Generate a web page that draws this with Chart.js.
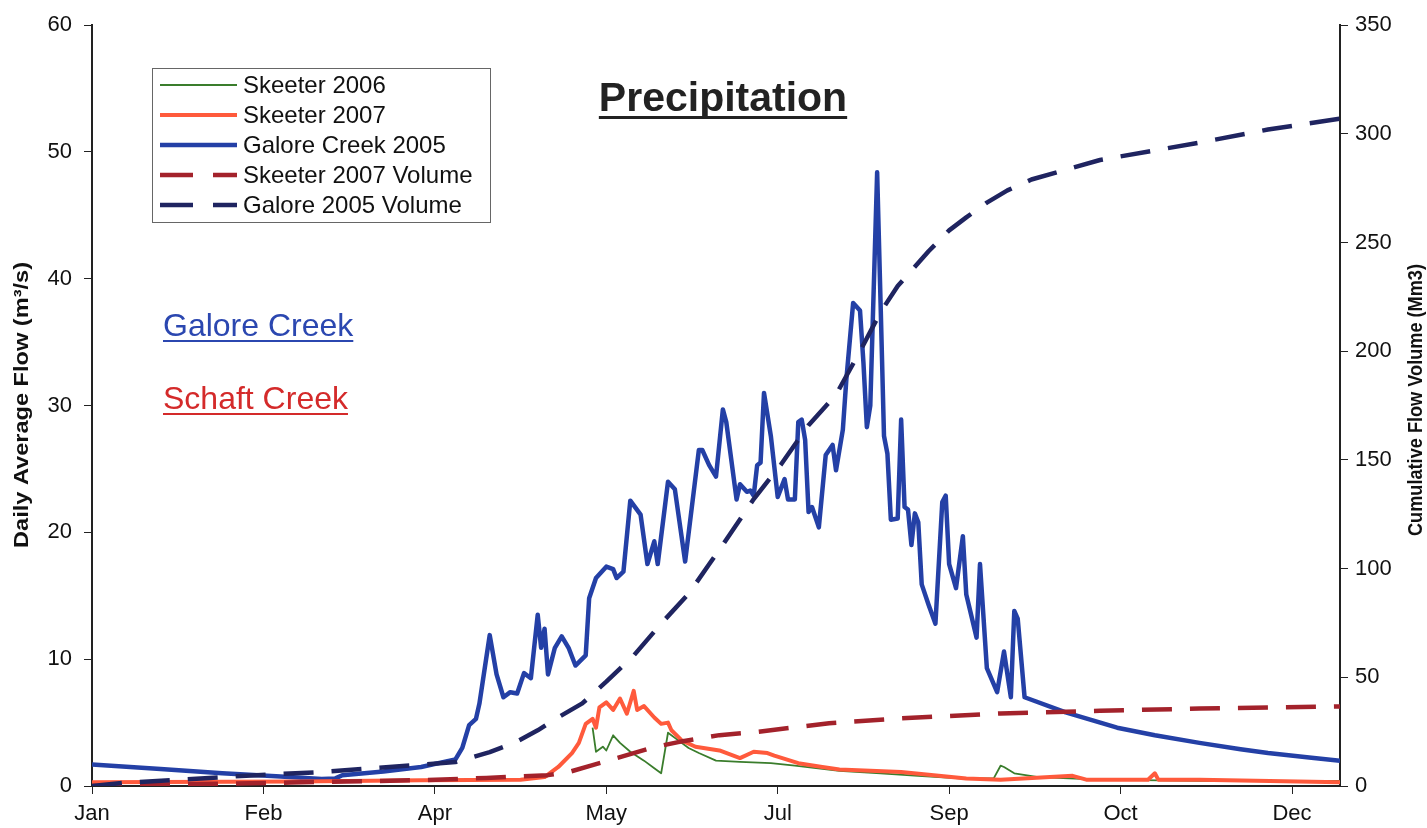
<!DOCTYPE html>
<html>
<head>
<meta charset="utf-8">
<title>Precipitation</title>
<script src="https://cdn.jsdelivr.net/npm/chart.js@4.4.0/dist/chart.umd.min.js"></script>
<style>
  body { margin: 0; background: #fff; }
  #wrap { width: 1427px; height: 828px; }
</style>
</head>
<body>
<div id="wrap"><canvas id="myChart" width="1427" height="828"></canvas></div>
<script>
'use strict';

// x axis is day of year, Excel style date axis with a tick every 50 days
let monthLabels = ['Jan', 'Feb', 'Apr', 'May', 'Jul', 'Sep', 'Oct', 'Dec'];

// Galore Creek 2005 daily flow (m3/s)
let galoreDays = [0, 20, 38, 55, 67, 71, 73, 85, 96, 106, 108, 110, 112, 113, 116, 118, 120, 122, 124, 126, 128, 130, 131, 132, 133, 135, 137, 139, 141, 144, 145, 147, 150, 152, 153, 155, 157, 160, 162, 164, 165, 168, 170, 173, 177, 178, 180, 182, 184, 185, 188, 189, 191, 192, 193, 194, 195, 196, 198, 200, 202, 203, 205, 206, 207, 208, 209, 210, 212, 214, 216, 217, 219, 220, 222, 224, 225, 226, 227, 229, 230, 231, 232, 233, 235, 236, 237, 238, 239, 240, 241, 242, 244, 246, 248, 249, 250, 252, 254, 255, 258, 259, 261, 264, 266, 268, 269, 270, 272, 284, 299, 310, 323, 335, 343, 355, 364];
let galoreFlow = [1.7, 1.35, 1.0, 0.75, 0.55, 0.6, 0.85, 1.15, 1.5, 2.1, 3.0, 4.8, 5.3, 6.5, 11.9, 8.8, 7.0, 7.4, 7.3, 8.9, 8.5, 13.5, 10.9, 12.4, 8.8, 10.9, 11.8, 10.9, 9.5, 10.3, 14.8, 16.4, 17.3, 17.1, 16.4, 16.9, 22.5, 21.4, 17.5, 19.3, 17.5, 24.0, 23.4, 17.7, 26.5, 26.5, 25.3, 24.4, 29.7, 28.7, 22.6, 23.8, 23.2, 23.3, 22.9, 25.3, 25.5, 31.0, 27.6, 22.8, 24.2, 22.6, 22.6, 28.7, 28.9, 27.3, 21.6, 22.0, 20.4, 26.1, 26.9, 24.9, 28.1, 32.0, 38.1, 37.5, 33.4, 28.3, 30.0, 48.4, 38.1, 27.6, 26.2, 21.0, 21.1, 28.9, 22.0, 21.8, 19.0, 21.5, 20.8, 15.9, 14.3, 12.8, 22.4, 22.9, 17.5, 15.6, 19.7, 15.1, 11.7, 17.5, 9.3, 7.4, 10.6, 7.0, 13.8, 13.2, 7.0, 5.8, 4.6, 4.0, 3.4, 2.9, 2.6, 2.25, 2.0];

// Skeeter 2006 daily flow
let skeeter06Days = [146, 147, 149, 150, 152, 154, 157, 161, 164, 166, 168, 171, 174, 177, 182, 189, 198, 205, 218, 230, 241, 253, 263, 265, 266, 269, 276, 294, 323, 364];
let skeeter06Flow = [4.6, 2.7, 3.1, 2.8, 4.0, 3.4, 2.7, 2.0, 1.4, 1.0, 4.2, 3.6, 3.0, 2.6, 2.0, 1.9, 1.8, 1.6, 1.2, 1.0, 0.8, 0.6, 0.6, 1.6, 1.5, 1.0, 0.7, 0.5, 0.4, 0.4];

// Skeeter 2007 daily flow
let skeeter07Days = [0, 60, 96, 125, 132, 136, 140, 142, 144, 146, 147, 148, 150, 152, 154, 155, 156, 158, 159, 161, 164, 166, 168, 169, 172, 176, 183, 189, 193, 197, 199, 206, 213, 218, 236, 255, 265, 286, 290, 308, 310, 311, 323, 364];
let skeeter07Flow = [0.3, 0.35, 0.45, 0.5, 0.7, 1.5, 2.6, 3.4, 4.9, 5.3, 4.6, 6.2, 6.6, 6.0, 6.9, 6.3, 5.7, 7.5, 6.0, 6.3, 5.4, 4.9, 5.0, 4.4, 3.6, 3.1, 2.8, 2.2, 2.7, 2.6, 2.4, 1.8, 1.5, 1.3, 1.1, 0.6, 0.5, 0.8, 0.5, 0.5, 1.0, 0.5, 0.5, 0.3];

// cumulative volumes (Mm3), right axis
let skeeterVolDays = [0, 19, 58, 96, 115, 133, 139, 146, 156, 164, 171, 183, 193, 215, 236, 265, 294, 323, 364];
let skeeterVolume = [0, 0.6, 1.6, 2.7, 3.7, 5, 6.4, 9.6, 14.2, 17.9, 20.2, 23.4, 24.7, 28.9, 31.1, 33.4, 34.6, 35.6, 36.6];

let galoreVolDays = [0, 9, 48, 67, 106, 116, 123, 130, 136, 143, 150, 158, 166, 174, 180, 184, 193, 201, 209, 217, 224, 230, 235, 244, 250, 255, 261, 267, 274, 294, 323, 343, 364];
let galoreVolume = [0, 1.4, 5, 6.4, 11, 15.6, 19.7, 25.6, 31.6, 38, 48, 60, 74.7, 88.4, 102, 111, 132, 148, 166, 180, 200, 218, 230, 246, 255.6, 261.6, 268.4, 274, 279, 288, 296, 302, 307];

// pair up days and values into {x, y} points for chart.js
function toPoints(days, values) {
    let points = [];
    for (let i = 0; i < days.length; i++) {
        points.push({ x: days[i], y: values[i] });
    }
    return points;
}

let tickFont = { family: "'Liberation Sans', Arial, sans-serif", size: 22 };

// legend rows, in the order the reference shows them
let legendRows = [
    { label: 'Skeeter 2006', color: '#3a7d2c', width: 1.8, dash: [] },
    { label: 'Skeeter 2007', color: '#ff5a3c', width: 4, dash: [] },
    { label: 'Galore Creek 2005', color: '#2440a6', width: 4.5, dash: [] },
    { label: 'Skeeter 2007 Volume', color: '#a3222b', width: 4.5, dash: [33, 20] },
    { label: 'Galore 2005 Volume', color: '#1f2460', width: 4.5, dash: [33, 20] }
];

function underlinedText(ctx, text, x, y, font, color, thick) {
    ctx.font = font;
    ctx.fillStyle = color;
    ctx.textBaseline = 'alphabetic';
    ctx.fillText(text, x, y);
    let w = ctx.measureText(text).width;
    ctx.fillRect(x, y + 4, w, thick);
}

// rotated text reading bottom to top, squeezed to a target length
function verticalText(ctx, text, cx, cy, len) {
    ctx.save();
    ctx.font = "bold 20px 'Liberation Sans Narrow', 'Liberation Sans', Arial, sans-serif";
    ctx.fillStyle = '#111';
    ctx.textAlign = 'center';
    ctx.textBaseline = 'middle';
    let w = ctx.measureText(text).width;
    ctx.translate(cx, cy);
    ctx.rotate(-Math.PI / 2);
    ctx.scale(len / w, 1);
    ctx.fillText(text, 0, 0);
    ctx.restore();
}

const decorations = {
    id: 'decorations',
    afterDraw(chart) {
        const ctx = chart.ctx;
        ctx.save();

        // title
        ctx.font = "bold 41px 'Liberation Sans', Arial, sans-serif";
        ctx.fillStyle = '#222';
        ctx.textAlign = 'center';
        ctx.textBaseline = 'alphabetic';
        ctx.fillText('Precipitation', 723, 111);
        let tw = ctx.measureText('Precipitation').width;
        ctx.fillRect(723 - tw / 2, 116, tw, 3);
        ctx.textAlign = 'left';

        // legend box
        ctx.fillStyle = '#fff';
        ctx.fillRect(152, 68, 338, 154);
        ctx.strokeStyle = '#666';
        ctx.lineWidth = 1;
        ctx.strokeRect(152.5, 68.5, 338, 154);
        for (let i = 0; i < legendRows.length; i++) {
            let row = legendRows[i];
            let y = 85 + i * 30;
            ctx.beginPath();
            ctx.setLineDash(row.dash);
            ctx.strokeStyle = row.color;
            ctx.lineWidth = row.width;
            ctx.moveTo(160, y);
            ctx.lineTo(237, y);
            ctx.stroke();
            ctx.setLineDash([]);
            ctx.font = "24px 'Liberation Sans', Arial, sans-serif";
            ctx.fillStyle = '#111';
            ctx.textBaseline = 'middle';
            ctx.fillText(row.label, 243, y + 1);
        }

        // creek names
        underlinedText(ctx, 'Galore Creek', 163, 336, "32px 'Liberation Sans', Arial, sans-serif", '#2b47b0', 2);
        underlinedText(ctx, 'Schaft Creek', 163, 409, "32px 'Liberation Sans', Arial, sans-serif", '#d42a2a', 2);

        // axis titles
        verticalText(ctx, 'Daily Average Flow (m³/s)', 22, 405, 286);
        verticalText(ctx, 'Cumulative Flow Volume (Mm3)', 1416, 400, 272);

        ctx.restore();
    }
};

function axisStyle() {
    return {
        grid: { display: true, drawOnChartArea: false, drawTicks: true, tickLength: 8, color: '#222' },
        border: { display: true, color: '#222', width: 2 }
    };
}

const ctx = document.getElementById('myChart');

new Chart(ctx, {
    type: 'line',
    data: {
        datasets: [
            {
                label: 'Skeeter 2006',
                data: toPoints(skeeter06Days, skeeter06Flow),
                borderColor: '#3a7d2c',
                borderWidth: 1.8,
                yAxisID: 'y',
                order: 4
            },
            {
                label: 'Skeeter 2007',
                data: toPoints(skeeter07Days, skeeter07Flow),
                borderColor: '#ff5a3c',
                borderWidth: 4,
                yAxisID: 'y',
                order: 3
            },
            {
                label: 'Galore Creek 2005',
                data: toPoints(galoreDays, galoreFlow),
                borderColor: '#2440a6',
                borderWidth: 4.5,
                yAxisID: 'y',
                order: 5
            },
            {
                label: 'Skeeter 2007 Volume',
                data: toPoints(skeeterVolDays, skeeterVolume),
                borderColor: '#a3222b',
                borderWidth: 4.5,
                borderDash: [30, 18],
                yAxisID: 'y2',
                order: 2
            },
            {
                label: 'Galore 2005 Volume',
                data: toPoints(galoreVolDays, galoreVolume),
                borderColor: '#1f2460',
                borderWidth: 4.5,
                borderDash: [30, 18],
                yAxisID: 'y2',
                order: 1
            }
        ]
    },
    options: {
        responsive: false,
        animation: false,
        layout: { padding: { top: 20 } },
        elements: {
            point: { radius: 0 },
            line: { tension: 0, borderCapStyle: 'butt', borderJoinStyle: 'round', fill: false }
        },
        plugins: {
            legend: { display: false },
            tooltip: { enabled: false }
        },
        scales: {
            x: Object.assign(axisStyle(), {
                type: 'linear',
                min: 0,
                max: 364,
                ticks: {
                    stepSize: 50,
                    includeBounds: false,
                    autoSkip: false,
                    maxRotation: 0,
                    padding: 7,
                    color: '#111',
                    font: tickFont,
                    callback: (v) => monthLabels[Math.round(v / 50)] || ''
                },
                afterFit: (scale) => { scale.height = 42; }
            }),
            y: Object.assign(axisStyle(), {
                position: 'left',
                min: 0,
                max: 60,
                ticks: { stepSize: 10, padding: 12, color: '#111', font: tickFont },
                afterFit: (scale) => { scale.width = 92; }
            }),
            y2: Object.assign(axisStyle(), {
                position: 'right',
                min: 0,
                max: 350,
                ticks: { stepSize: 50, padding: 7, color: '#111', font: tickFont },
                afterFit: (scale) => { scale.width = 87; }
            })
        }
    },
    plugins: [decorations]
});
</script>
</body>
</html>
